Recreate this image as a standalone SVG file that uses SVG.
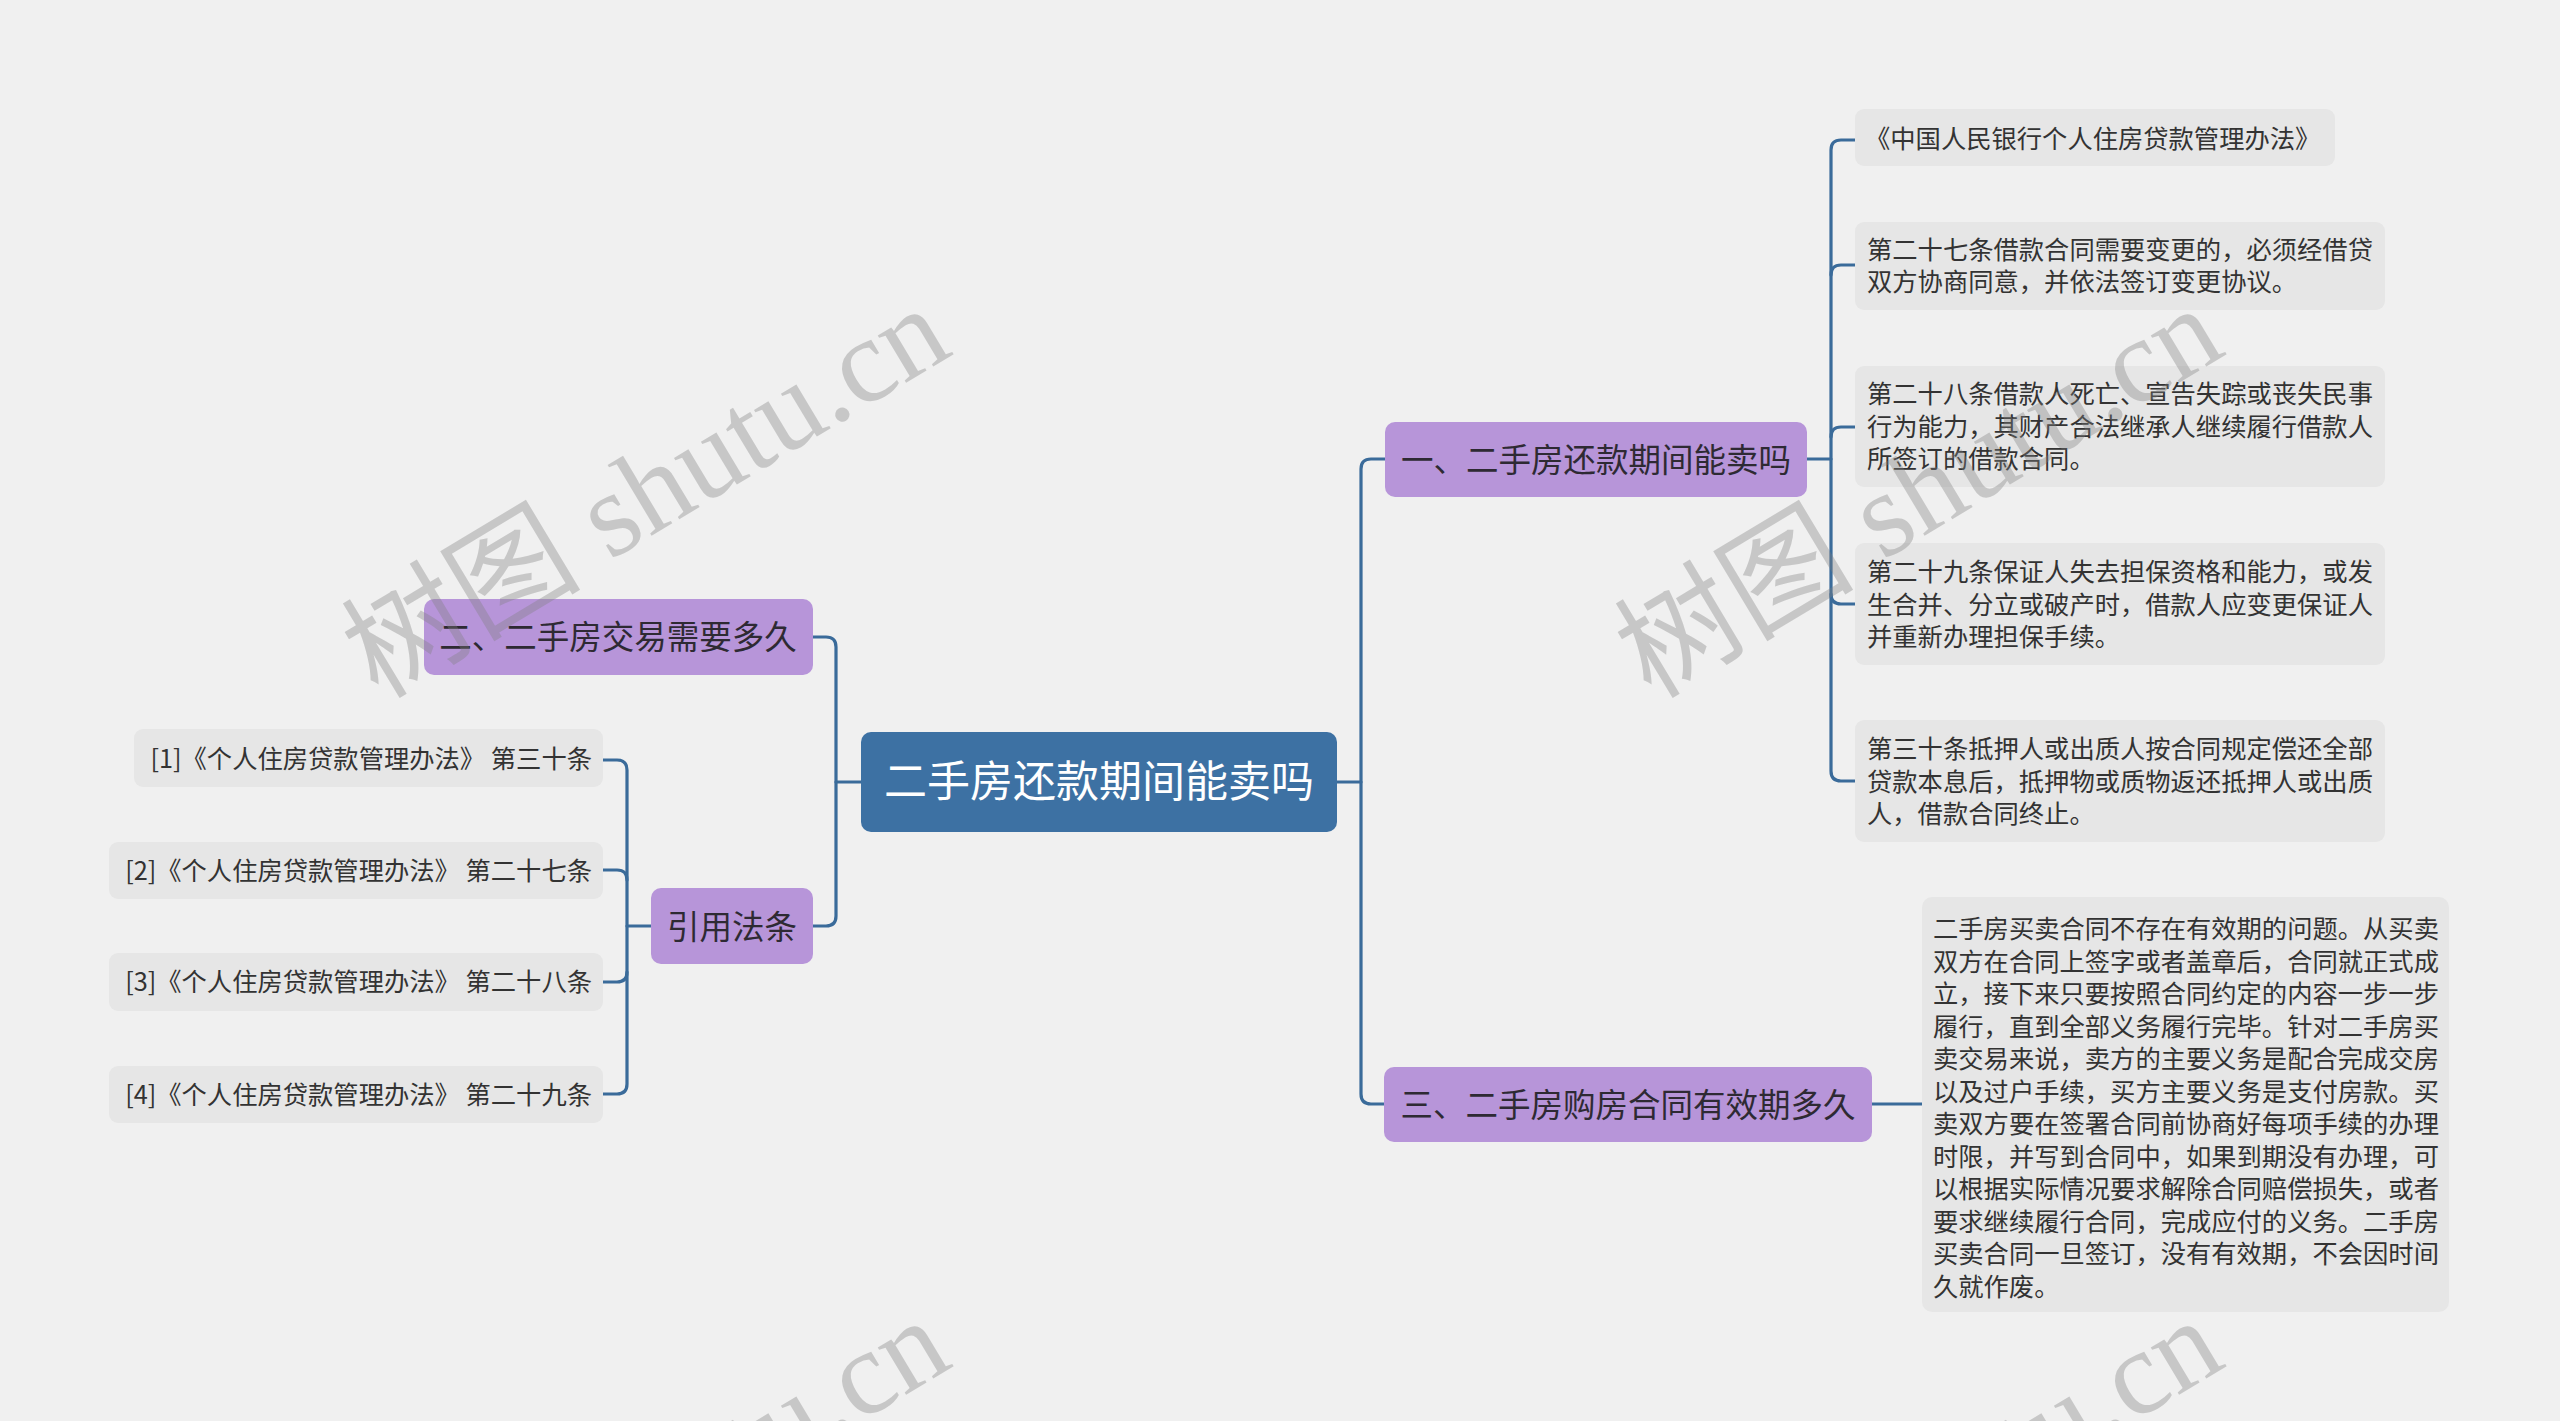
<svg xmlns="http://www.w3.org/2000/svg" width="2560" height="1421" viewBox="0 0 2560 1421">
<style>
.bg{fill:#f0f0f0}
.root{fill:#3d71a3}
.main{fill:#b795d9}
.leaf{fill:#e6e6e6}
.t{font-family:"Noto Sans CJK SC","Noto Sans",sans-serif;dominant-baseline:central}
.tr{fill:#ffffff;font-size:43px}
.tm{fill:#2e2a33;font-size:32.5px}
.tl{fill:#333333;font-size:25.3px}
.c{fill:none;stroke:#3a6b9a;stroke-width:3.2;stroke-linecap:round;stroke-linejoin:round}
.wm{font-family:"Liberation Serif","Noto Sans CJK SC",serif;font-size:120px;fill:#808080;fill-opacity:0.36}
</style>
<rect class="bg" x="0" y="0" width="2560" height="1421"/>
<g id="connectors">
<path class="c" d="M861,782 H836"/>
<path class="c" d="M813,637 H826 Q836,637 836,647 V916 Q836,926 826,926 H813"/>
<path class="c" d="M1337,782 H1361"/>
<path class="c" d="M1385,459 H1371 Q1361,459 1361,469 V1094 Q1361,1104 1371,1104 H1384"/>
<path class="c" d="M1807,459 H1831"/>
<path class="c" d="M1855,140 H1841 Q1831,140 1831,150 V771 Q1831,781 1841,781 H1855"/>
<path class="c" d="M1831,275 Q1831,265 1841,265 H1855"/>
<path class="c" d="M1831,437 Q1831,427 1841,427 H1855"/>
<path class="c" d="M1831,594 Q1831,604 1841,604 H1855"/>
<path class="c" d="M1872,1104 H1922"/>
<path class="c" d="M651,926 H627"/>
<path class="c" d="M603,760 H617 Q627,760 627,770 V1084 Q627,1094 617,1094 H603"/>
<path class="c" d="M627,880 Q627,870 617,870 H603"/>
<path class="c" d="M627,972 Q627,982 617,982 H603"/>
</g>
<g id="root">
<rect class="root" x="861" y="732" width="476" height="100" rx="10"/>
<text class="t tr" x="1099" y="778" text-anchor="middle">二手房还款期间能卖吗</text>
</g>
<g id="b1">
<rect class="main" x="1385" y="422" width="422" height="75" rx="10"/>
<text class="t tm" x="1596" y="457" text-anchor="middle">一、二手房还款期间能卖吗</text>
</g>
<g id="b2">
<rect class="main" x="424" y="599" width="389" height="76" rx="10"/>
<text class="t tm" x="618" y="634" text-anchor="middle">二、二手房交易需要多久</text>
</g>
<g id="b3">
<rect class="main" x="1384" y="1067" width="488" height="75" rx="10"/>
<text class="t tm" x="1628" y="1102" text-anchor="middle">三、二手房购房合同有效期多久</text>
</g>
<g id="b4">
<rect class="main" x="651" y="888" width="162" height="76" rx="10"/>
<text class="t tm" x="732" y="924" text-anchor="middle">引用法条</text>
</g>
<g id="r1">
<rect class="leaf" x="1855" y="109" width="480" height="57" rx="9"/>
<text class="t tl" x="1865" y="137">《中国人民银行个人住房贷款管理办法》</text>
</g>
<g id="r2">
<rect class="leaf" x="1855" y="222" width="530" height="88" rx="9"/>
<text class="t tl" x="1867" y="248">第二十七条借款合同需要变更的，必须经借贷</text>
<text class="t tl" x="1867" y="280">双方协商同意，并依法签订变更协议。</text>
</g>
<g id="r3">
<rect class="leaf" x="1855" y="366" width="530" height="121" rx="9"/>
<text class="t tl" x="1867" y="392">第二十八条借款人死亡、宣告失踪或丧失民事</text>
<text class="t tl" x="1867" y="424.5">行为能力，其财产合法继承人继续履行借款人</text>
<text class="t tl" x="1867" y="457">所签订的借款合同。</text>
</g>
<g id="r4">
<rect class="leaf" x="1855" y="543" width="530" height="122" rx="9"/>
<text class="t tl" x="1867" y="570">第二十九条保证人失去担保资格和能力，或发</text>
<text class="t tl" x="1867" y="602.5">生合并、分立或破产时，借款人应变更保证人</text>
<text class="t tl" x="1867" y="635">并重新办理担保手续。</text>
</g>
<g id="r5">
<rect class="leaf" x="1855" y="720" width="530" height="122" rx="9"/>
<text class="t tl" x="1867" y="747">第三十条抵押人或出质人按合同规定偿还全部</text>
<text class="t tl" x="1867" y="779.5">贷款本息后，抵押物或质物返还抵押人或出质</text>
<text class="t tl" x="1867" y="812">人，借款合同终止。</text>
</g>
<g id="r6">
<rect class="leaf" x="1922" y="897" width="527" height="415" rx="10"/>
<text class="t tl" x="1933" y="927">二手房买卖合同不存在有效期的问题。从买卖</text>
<text class="t tl" x="1933" y="959.5">双方在合同上签字或者盖章后，合同就正式成</text>
<text class="t tl" x="1933" y="992">立，接下来只要按照合同约定的内容一步一步</text>
<text class="t tl" x="1933" y="1024.5">履行，直到全部义务履行完毕。针对二手房买</text>
<text class="t tl" x="1933" y="1057">卖交易来说，卖方的主要义务是配合完成交房</text>
<text class="t tl" x="1933" y="1089.5">以及过户手续，买方主要义务是支付房款。买</text>
<text class="t tl" x="1933" y="1122">卖双方要在签署合同前协商好每项手续的办理</text>
<text class="t tl" x="1933" y="1154.5">时限，并写到合同中，如果到期没有办理，可</text>
<text class="t tl" x="1933" y="1187">以根据实际情况要求解除合同赔偿损失，或者</text>
<text class="t tl" x="1933" y="1219.5">要求继续履行合同，完成应付的义务。二手房</text>
<text class="t tl" x="1933" y="1252">买卖合同一旦签订，没有有效期，不会因时间</text>
<text class="t tl" x="1933" y="1284.5">久就作废。</text>
</g>
<g id="l1">
<rect class="leaf" x="134" y="729" width="469" height="58" rx="9"/>
<text class="t tl" x="592" y="757" text-anchor="end">[1]《个人住房贷款管理办法》 第三十条</text>
</g>
<g id="l2">
<rect class="leaf" x="109" y="842" width="494" height="57" rx="9"/>
<text class="t tl" x="592" y="869" text-anchor="end">[2]《个人住房贷款管理办法》 第二十七条</text>
</g>
<g id="l3">
<rect class="leaf" x="109" y="953" width="494" height="58" rx="9"/>
<text class="t tl" x="592" y="980" text-anchor="end">[3]《个人住房贷款管理办法》 第二十八条</text>
</g>
<g id="l4">
<rect class="leaf" x="109" y="1066" width="494" height="57" rx="9"/>
<text class="t tl" x="592" y="1093" text-anchor="end">[4]《个人住房贷款管理办法》 第二十九条</text>
</g>
<g id="watermarks">
<text class="wm" transform="translate(378,700) rotate(-31)">树图 shutu.cn</text>
<text class="wm" transform="translate(1651,700) rotate(-31)">树图 shutu.cn</text>
<text class="wm" transform="translate(378,1712) rotate(-31)">树图 shutu.cn</text>
<text class="wm" transform="translate(1651,1712) rotate(-31)">树图 shutu.cn</text>
</g>
</svg>
